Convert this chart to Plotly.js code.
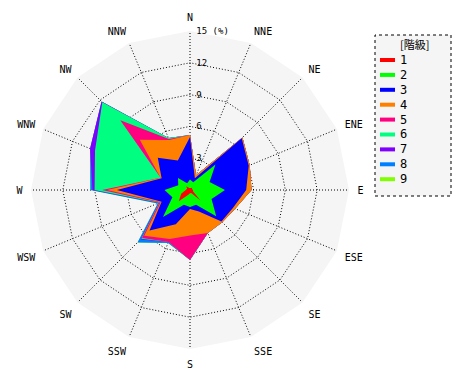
<!DOCTYPE html>
<html>
<head>
<meta charset="utf-8">
<script src="https://cdn.plot.ly/plotly-3.0.1.min.js"></script>
<style>html,body{margin:0;padding:0;background:#fff;}#chart{width:470px;height:380px;}</style>
</head>
<body>
<div id="chart"></div>
<script>
// 16 wind directions
const directions = ["N","NNE","NE","ENE","E","ESE","SE","SSE","S","SSW","SW","WSW","W","WNW","NW","NNW"];
// class names
const classNames = ["1","2","3","4","5","6","7","8","9"];
const classColors = ["#ff0000","#00ff00","#0000ff","#ff8000","#ff0080","#00ff80","#8000ff","#0080ff","#80ff00"];
const legendTitle = "[階級]";
// cumulative frequency (%) up to each class
const cum1 = [0.2,0.2,0.3,0.2,0.3,0.3,1.4,0.3,0.3,0.5,1.5,0.9,0.4,0.3,0.5,0.2];
const cum2 = [1.0,0.8,3.4,2.0,3.3,2.2,3.5,1.5,1.6,1.5,3.6,1.8,2.4,1.2,1.6,0.7];
const cum3 = [5.0,1.2,6.9,6.0,5.3,4.4,4.2,2.2,1.8,3.5,5.4,2.9,6.9,2.9,4.3,3.0];
const cum4 = [5.2,1.5,7.0,6.1,5.8,4.6,4.3,4.4,4.3,5.0,6.1,3.0,7.8,3.0,6.7,5.1];
const cum5 = [5.2,1.5,7.0,6.1,5.8,4.6,4.3,4.4,6.6,5.3,6.4,3.1,8.3,3.0,9.3,5.2];
const cum6 = [5.2,1.5,7.0,6.1,5.8,4.6,4.3,4.4,6.6,5.3,6.5,3.15,9.0,9.7,11.7,5.3];
const cum7 = [5.2,1.5,7.0,6.1,5.8,4.6,4.3,4.4,6.6,5.3,6.6,3.2,9.2,10.2,11.8,5.3];
const cum8 = [5.2,1.5,7.0,6.1,5.8,4.6,4.3,4.4,6.6,5.4,7.0,3.3,9.4,10.2,11.8,5.3];
const cum9 = [5.2,1.5,7.0,6.1,5.8,4.6,4.3,4.4,6.6,5.4,7.0,3.3,9.4,10.2,11.8,5.3];
const radialTicks = [3,6,9,12,15];
const radialTickText = ["3","6","9","12","15 (%)"];

const cums = [cum1,cum2,cum3,cum4,cum5,cum6,cum7,cum8,cum9];
const closedTheta = directions.concat([directions[0]]);
const traces = [];
// draw largest (class 9) first so smaller classes sit on top
for (let k = cums.length - 1; k >= 0; k--) {
  const r = cums[k].concat([cums[k][0]]);
  traces.push({
    type: "scatterpolar", r: r, theta: closedTheta, mode: "lines",
    name: classNames[k],
    fill: "toself", fillcolor: classColors[k],
    line: {color: classColors[k], width: 0},
    showlegend: false, hoverinfo: "skip"
  });
}

// hand-built legend box (dotted border) in paper coordinates
const W = 470, H = 380;
const px = (x) => x / W, py = (y) => 1 - y / H;
const shapes = [{
  type: "rect", xref: "paper", yref: "paper",
  x0: px(375), x1: px(451), y0: py(196), y1: py(35),
  fillcolor: "#f5f5f5", line: {color: "#000", width: 1, dash: "dot"}, layer: "below"
}];
const annotations = [{
  xref: "paper", yref: "paper", x: px(414), y: py(44), xanchor: "center", yanchor: "middle",
  text: legendTitle, showarrow: false, font: {family: "Noto Sans CJK JP", size: 11, color: "#000"}
}];
classNames.forEach((nm, k) => {
  const yy = 60 + k * 14.9;
  shapes.push({type: "line", xref: "paper", yref: "paper",
    x0: px(380), x1: px(395), y0: py(yy), y1: py(yy),
    line: {color: classColors[k], width: 4}});
  annotations.push({xref: "paper", yref: "paper", x: px(398), y: py(yy),
    xanchor: "left", yanchor: "middle", text: nm, showarrow: false,
    font: {family: "DejaVu Sans Mono", size: 12, color: "#000"}});
});

const layout = {
  width: W, height: H,
  margin: {l: 0, r: 0, t: 0, b: 0},
  paper_bgcolor: "#ffffff",
  font: {family: "DejaVu Sans Mono", size: 10, color: "#000"},
  showlegend: false,
  polar: {
    domain: {x: [31/W, 349/W], y: [31/H, 349/H]},
    bgcolor: "#f5f5f5",
    gridshape: "linear",
    angularaxis: {
      type: "category", categoryarray: directions, categoryorder: "array",
      direction: "clockwise", rotation: 90,
      showline: false, gridcolor: "#000", griddash: "1px,2px", gridwidth: 1,
      ticks: "outside", ticklen: 6, tickcolor: "rgba(0,0,0,0)",
      tickfont: {family: "DejaVu Sans Mono", size: 10, color: "#000"}
    },
    radialaxis: {
      range: [0, 15], angle: 90, side: "clockwise", tickangle: 90,
      tickvals: radialTicks, ticktext: radialTickText,
      showline: false, gridcolor: "#000", griddash: "1px,2px", gridwidth: 1,
      ticks: "outside", ticklen: 4, tickcolor: "rgba(0,0,0,0)",
      tickfont: {family: "DejaVu Sans Mono", size: 9, color: "#000"}
    }
  },
  shapes: shapes,
  annotations: annotations
};
Plotly.newPlot("chart", traces, layout, {displayModeBar: false, staticPlot: true});
</script>
</body>
</html>
